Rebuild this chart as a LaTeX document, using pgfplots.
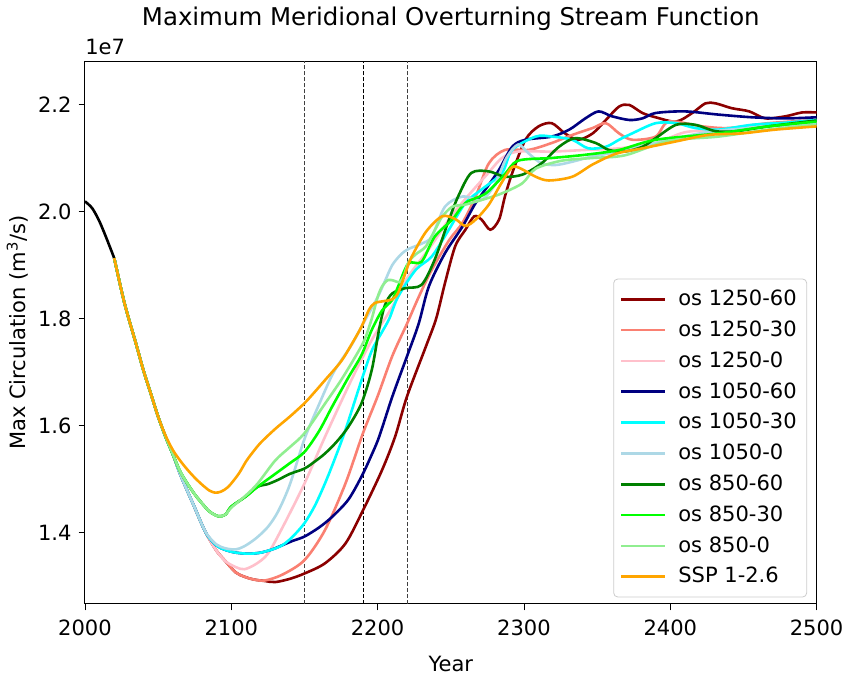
\documentclass[border=0pt]{standalone}
\usepackage{pgfplots}
\pgfplotsset{compat=1.18}
\usepackage{fontspec}
\setmainfont{DejaVu Sans}
\definecolor{mdarkred}{RGB}{139,0,0}
\definecolor{msalmon}{RGB}{250,128,114}
\definecolor{mpink}{RGB}{255,192,203}
\definecolor{mnavy}{RGB}{0,0,128}
\definecolor{mcyan}{RGB}{0,255,255}
\definecolor{mlightblue}{RGB}{173,216,230}
\definecolor{mgreen}{RGB}{0,128,0}
\definecolor{mlime}{RGB}{0,255,0}
\definecolor{mlightgreen}{RGB}{144,238,144}
\definecolor{morange}{RGB}{255,165,0}
\begin{document}
\begin{tikzpicture}
\begin{axis}[
  scale only axis,
  width=365.5pt, height=271pt,
  xmin=2000, xmax=2500, ymin=1.2673, ymax=2.2804,
  xtick={2000,2100,2200,2300,2400,2500},
  ytick={1.4,1.6,1.8,2.0,2.2},
  yticklabel style={/pgf/number format/fixed, /pgf/number format/fixed zerofill, /pgf/number format/precision=1},
  xticklabel style={/pgf/number format/1000 sep={}, yshift=-1.5pt},
  /pgf/number format/assume math mode=true,
  tick align=outside, tick pos=left,
  major tick length=3.2pt,
  every tick/.style={black, line width=0.4pt},
  axis line style={line width=0.5pt},
  tick label style={font=\fontsize{10.5}{12.6}\selectfont},
  label style={font=\fontsize{10.5}{12.6}\selectfont},
  xlabel={Year}, ylabel={Max Circulation (m\textsuperscript{3}/s)},
  xlabel style={yshift=-3pt},
  ylabel style={yshift=-2pt},
  title={Maximum Meridional Overturning Stream Function},
  title style={font=\fontsize{12.2}{14.6}\selectfont, yshift=6pt},
  legend cell align=left,
  legend style={at={(0.987,0.012)}, anchor=south east, draw=black!20, rounded corners=2pt,
    font=\fontsize{10.5}{12.6}\selectfont, row sep=2.1pt, inner xsep=3pt, inner ysep=3.5pt,
    /tikz/every odd column/.append style={column sep=4pt}},
  legend image code/.code={\draw[#1] (0pt,0pt) -- (22pt,0pt);},
  every axis plot/.append style={line width=1.3pt, smooth, tension=0.5},
  clip mode=individual,
]
% vertical reference lines
\addplot[forget plot, black!75, dashed, line width=0.35pt, sharp plot, dash pattern=on 2pt off 1pt] coordinates {(2150,1.2673) (2150,2.2804)};
\addplot[forget plot, black, dashed, line width=0.35pt, sharp plot, dash pattern=on 2pt off 1pt] coordinates {(2190,1.2673) (2190,2.2804)};
\addplot[forget plot, black!75, dashed, line width=0.35pt, sharp plot, dash pattern=on 2pt off 1pt] coordinates {(2220,1.2673) (2220,2.2804)};
% historical
\addplot[forget plot, black] coordinates {(2000,2.019) (2005,2.006) (2010,1.981) (2015,1.948) (2020,1.913)};
% os 1250-60
\addplot[mdarkred] coordinates {(2020,1.913) (2027,1.829) (2035,1.752) (2040,1.703) (2045,1.660) (2050,1.617) (2055,1.580) (2060,1.547) (2065,1.510) (2070,1.478) (2075,1.447) (2080,1.415) (2084,1.393) (2090,1.366) (2096,1.347) (2103,1.326) (2109,1.318) (2115,1.313) (2123,1.310) (2130,1.308) (2140,1.314) (2150,1.324) (2164,1.343) (2178,1.380) (2190,1.442) (2203,1.517) (2212,1.58) (2220,1.654) (2233,1.748) (2240,1.80) (2246,1.866) (2253,1.935) (2260,1.966) (2266,1.991) (2271,1.985) (2277,1.966) (2283,1.985) (2287,2.028) (2292,2.072) (2301,2.134) (2310,2.159) (2319,2.165) (2328,2.146) (2337,2.134) (2347,2.146) (2356,2.171) (2365,2.196) (2372,2.199) (2381,2.184) (2390,2.176) (2404,2.168) (2415,2.184) (2424,2.202) (2431,2.202) (2442,2.193) (2454,2.187) (2465,2.174) (2479,2.178) (2490,2.185) (2500,2.185)};
\addlegendentry{os 1250-60}
% os 1250-30
\addplot[msalmon] coordinates {(2020,1.913) (2027,1.829) (2035,1.752) (2040,1.703) (2045,1.660) (2050,1.617) (2055,1.580) (2060,1.547) (2065,1.510) (2070,1.478) (2075,1.447) (2080,1.415) (2084,1.393) (2090,1.366) (2096,1.347) (2103,1.326) (2109,1.318) (2115,1.313) (2123,1.311) (2135,1.322) (2150,1.349) (2164,1.405) (2178,1.492) (2190,1.586) (2200,1.655) (2210,1.73) (2220,1.79) (2228,1.84) (2237,1.891) (2249,1.947) (2258,1.979) (2267,2.028) (2276,2.090) (2287,2.115) (2303,2.115) (2319,2.128) (2333,2.143) (2347,2.156) (2356,2.165) (2365,2.146) (2374,2.134) (2390,2.140) (2399,2.168) (2422,2.159) (2440,2.156) (2467,2.165) (2500,2.171)};
\addlegendentry{os 1250-30}
% os 1250-0
\addplot[mpink] coordinates {(2020,1.913) (2027,1.829) (2035,1.752) (2040,1.703) (2045,1.660) (2050,1.617) (2055,1.580) (2060,1.547) (2065,1.510) (2070,1.478) (2075,1.447) (2080,1.415) (2084,1.393) (2090,1.366) (2096,1.347) (2103,1.336) (2109,1.332) (2117,1.342) (2125,1.361) (2135,1.41) (2150,1.492) (2164,1.579) (2182,1.685) (2196,1.760) (2210,1.822) (2220,1.875) (2235,1.93) (2250,1.99) (2262,2.03) (2275,2.07) (2285,2.10) (2296,2.112) (2319,2.112) (2342,2.115) (2365,2.118) (2390,2.128) (2410,2.148) (2433,2.153) (2456,2.159) (2500,2.168)};
\addlegendentry{os 1250-0}
% os 1050-60
\addplot[mnavy] coordinates {(2020,1.913) (2027,1.829) (2035,1.752) (2040,1.703) (2045,1.660) (2050,1.617) (2055,1.580) (2060,1.547) (2065,1.510) (2070,1.478) (2075,1.447) (2080,1.415) (2084,1.394) (2090,1.376) (2096,1.368) (2103,1.363) (2112,1.361) (2120,1.363) (2128,1.369) (2135,1.377) (2142,1.385) (2150,1.393) (2160,1.41) (2169,1.430) (2180,1.462) (2189,1.505) (2195,1.54) (2201,1.579) (2210,1.654) (2220,1.729) (2228,1.79) (2235,1.860) (2246,1.922) (2258,1.972) (2267,2.016) (2276,2.05) (2283,2.078) (2292,2.121) (2301,2.134) (2319,2.140) (2331,2.153) (2342,2.174) (2351,2.187) (2360,2.178) (2372,2.171) (2381,2.174) (2390,2.184) (2410,2.187) (2433,2.181) (2456,2.176) (2479,2.174) (2500,2.176)};
\addlegendentry{os 1050-60}
% os 1050-30
\addplot[mcyan] coordinates {(2020,1.913) (2027,1.829) (2035,1.752) (2040,1.703) (2045,1.660) (2050,1.617) (2055,1.580) (2060,1.547) (2065,1.510) (2070,1.478) (2075,1.447) (2080,1.415) (2084,1.394) (2090,1.376) (2096,1.368) (2103,1.363) (2112,1.361) (2120,1.363) (2128,1.369) (2135,1.377) (2142,1.393) (2150,1.418) (2157,1.45) (2164,1.492) (2171,1.54) (2178,1.592) (2189,1.685) (2196,1.74) (2203,1.775) (2208,1.80) (2214,1.841) (2226,1.891) (2237,1.916) (2248,1.963) (2260,2.016) (2271,2.041) (2285,2.072) (2292,2.115) (2308,2.140) (2319,2.140) (2333,2.134) (2344,2.118) (2356,2.121) (2365,2.134) (2374,2.146) (2390,2.165) (2404,2.165) (2417,2.156) (2433,2.153) (2456,2.162) (2479,2.166) (2500,2.171)};
\addlegendentry{os 1050-30}
% os 1050-0
\addplot[mlightblue] coordinates {(2020,1.913) (2027,1.829) (2035,1.752) (2040,1.703) (2045,1.660) (2050,1.617) (2055,1.580) (2060,1.547) (2065,1.510) (2070,1.478) (2075,1.447) (2080,1.415) (2084,1.395) (2090,1.378) (2096,1.371) (2103,1.369) (2109,1.375) (2117,1.39) (2125,1.411) (2132,1.44) (2140,1.49) (2150,1.575) (2160,1.640) (2170,1.70) (2182,1.75) (2190,1.79) (2200,1.84) (2205,1.87) (2210,1.90) (2216,1.92) (2221,1.93) (2230,1.94) (2237,1.953) (2246,2.009) (2258,2.028) (2271,2.022) (2280,2.05) (2288,2.10) (2296,2.125) (2303,2.109) (2312,2.090) (2322,2.087) (2333,2.093) (2347,2.103) (2365,2.112) (2390,2.128) (2430,2.150) (2500,2.165)};
\addlegendentry{os 1050-0}
% os 850-60
\addplot[mgreen] coordinates {(2020,1.913) (2027,1.829) (2035,1.752) (2040,1.703) (2045,1.660) (2050,1.617) (2055,1.580) (2060,1.547) (2065,1.515) (2070,1.492) (2075,1.472) (2080,1.455) (2085,1.440) (2091,1.431) (2096,1.434) (2100,1.449) (2110,1.468) (2118,1.486) (2125,1.491) (2132,1.499) (2140,1.51) (2150,1.52) (2157,1.533) (2164,1.548) (2172,1.57) (2180,1.598) (2189,1.642) (2196,1.704) (2201,1.78) (2205,1.825) (2210,1.847) (2219,1.857) (2230,1.863) (2239,1.910) (2248,1.979) (2255,2.028) (2264,2.072) (2276,2.075) (2287,2.065) (2299,2.069) (2312,2.090) (2324,2.121) (2335,2.137) (2349,2.128) (2358,2.115) (2369,2.112) (2381,2.121) (2390,2.137) (2404,2.162) (2417,2.162) (2431,2.150) (2445,2.150) (2467,2.159) (2500,2.170)};
\addlegendentry{os 850-60}
% os 850-30
\addplot[mlime] coordinates {(2020,1.913) (2027,1.829) (2035,1.752) (2040,1.703) (2045,1.660) (2050,1.617) (2055,1.580) (2060,1.547) (2065,1.515) (2070,1.492) (2075,1.472) (2080,1.455) (2085,1.440) (2091,1.431) (2096,1.434) (2100,1.449) (2110,1.468) (2118,1.486) (2130,1.51) (2140,1.53) (2150,1.551) (2160,1.59) (2169,1.636) (2180,1.69) (2189,1.732) (2196,1.779) (2203,1.815) (2210,1.835) (2214,1.86) (2221,1.903) (2230,1.906) (2239,1.953) (2251,1.985) (2260,2.016) (2274,2.034) (2287,2.07) (2296,2.095) (2319,2.100) (2342,2.106) (2365,2.115) (2390,2.134) (2433,2.146) (2467,2.159) (2500,2.168)};
\addlegendentry{os 850-30}
% os 850-0
\addplot[mlightgreen] coordinates {(2020,1.913) (2027,1.829) (2035,1.752) (2040,1.703) (2045,1.660) (2050,1.617) (2055,1.580) (2060,1.547) (2065,1.515) (2070,1.492) (2075,1.472) (2080,1.455) (2085,1.440) (2091,1.431) (2096,1.434) (2100,1.447) (2110,1.47) (2118,1.492) (2130,1.535) (2140,1.56) (2150,1.586) (2165,1.645) (2175,1.685) (2185,1.73) (2191,1.76) (2196,1.80) (2200,1.84) (2203,1.860) (2207,1.872) (2211,1.871) (2215,1.868) (2218,1.88) (2221,1.905) (2226,1.92) (2233,1.935) (2240,1.97) (2244,1.99) (2251,2.009) (2260,2.013) (2274,2.024) (2285,2.034) (2299,2.053) (2308,2.080) (2326,2.095) (2347,2.100) (2369,2.105) (2399,2.132) (2433,2.140) (2467,2.153) (2500,2.162)};
\addlegendentry{os 850-0}
% SSP 1-2.6
\addplot[morange] coordinates {(2020,1.913) (2027,1.829) (2035,1.752) (2040,1.703) (2045,1.660) (2050,1.617) (2055,1.582) (2060,1.555) (2065,1.535) (2070,1.518) (2075,1.503) (2080,1.49) (2085,1.479) (2089,1.475) (2093,1.477) (2098,1.486) (2105,1.51) (2110,1.533) (2114,1.548) (2120,1.568) (2130,1.594) (2140,1.617) (2150,1.642) (2157,1.663) (2164,1.685) (2175,1.72) (2182,1.751) (2189,1.785) (2194,1.816) (2198,1.829) (2205,1.833) (2210,1.836) (2214,1.848) (2219,1.885) (2223,1.914) (2233,1.962) (2244,1.991) (2253,1.986) (2260,1.973) (2267,1.985) (2276,2.013) (2285,2.055) (2292,2.083) (2298,2.080) (2308,2.065) (2317,2.058) (2333,2.065) (2347,2.088) (2363,2.108) (2381,2.118) (2404,2.131) (2426,2.143) (2449,2.146) (2472,2.153) (2500,2.159)};
\addlegendentry{SSP 1-2.6}
\node[anchor=south west, inner sep=0pt, font=\fontsize{10.5}{12.6}\selectfont] at (rel axis cs:0,1) [yshift=3pt] {1e7};
\end{axis}
\end{tikzpicture}
\end{document}
